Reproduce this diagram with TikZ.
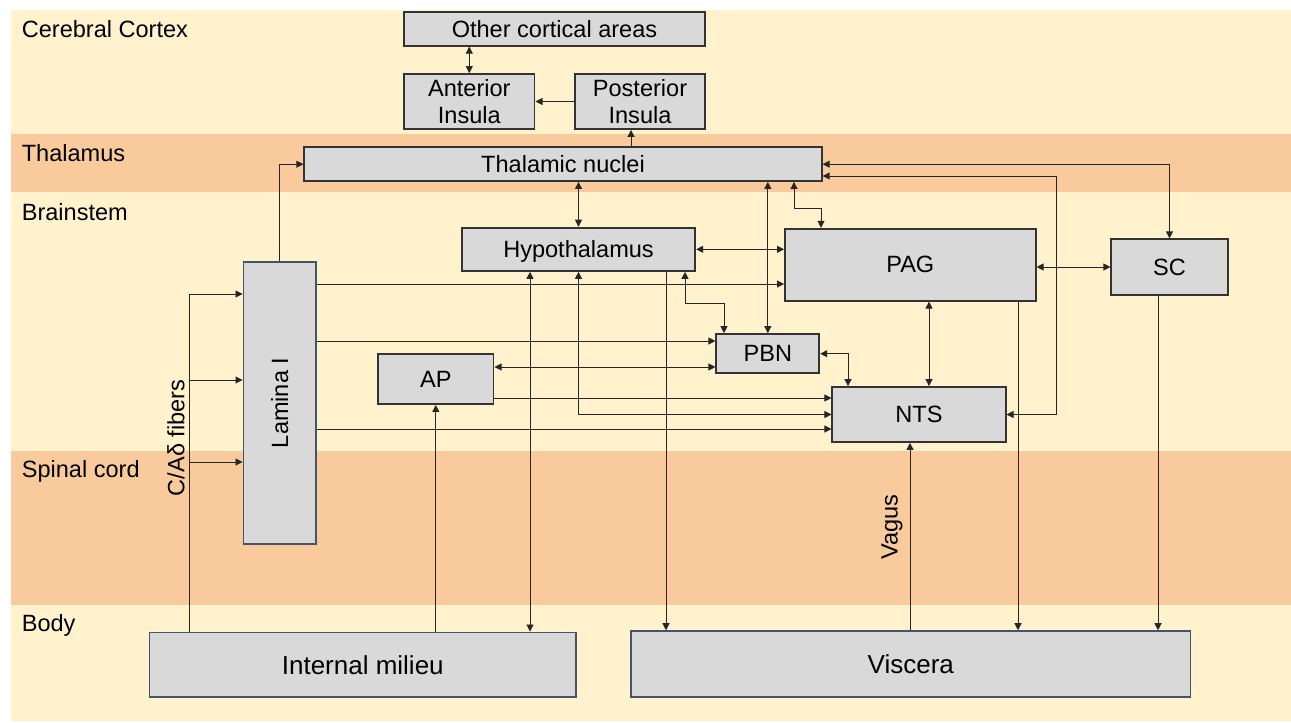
\documentclass[tikz,border=0pt]{standalone}
\usepackage{fontspec}
\setmainfont{Liberation Sans}
\usetikzlibrary{arrows.meta, calc}
\definecolor{cream}{HTML}{FFF2CC}
\definecolor{band}{HTML}{F9CB9C}
\definecolor{boxgray}{HTML}{D9D9D9}
\definecolor{boxedge}{HTML}{333333}
\definecolor{blueedge}{HTML}{44546A}
\newcommand{\fs}{\fontsize{13.4}{15.5}\selectfont}
\newcommand{\fb}{\fontsize{14.8}{17}\selectfont}
\tikzset{
  box/.style={draw=boxedge, fill=boxgray, line width=1pt, inner sep=0pt, align=center, text depth=0pt, font=\fs},
  bluebox/.style={box, draw=blueedge, line width=0.9pt},
  sz/.style 2 args={minimum width=#1*0.02cm, minimum height=#2*0.02cm},
  arr/.style={-{Triangle[length=4pt,width=4pt]}, line width=0.5pt, draw=black!85},
  dbl/.style={{Triangle[length=4pt,width=4pt]}-{Triangle[length=4pt,width=4pt]}, line width=0.5pt, draw=black!85},
  lay/.style={anchor=base west, inner sep=0pt, font=\fs},
}

\begin{document}
\begin{tikzpicture}[x=0.02cm, y=-0.02cm]
  % sfondo
  \useasboundingbox (0,0) rectangle (1291,723);
  \fill[cream] (11,10) rectangle (1291,721);
  \fill[band] (11,134) rectangle (1291,192);
  \fill[band] (11,451) rectangle (1291,605);

  % livelli
  \node[lay] (lcor) at (21.5,37.3) {Cerebral Cortex};
  \node[lay] (lthal) at (21.5,161.7) {Thalamus};
  \node[lay] (lbrain) at (21.5,220.7) {Brainstem};
  \node[lay] (lspin) at (21.5,477) {Spinal cord};
  \node[lay] (lbody) at (21.5,631.7) {Body};

  % box
  \node[box, sz={301}{33.4}] (oca) at (554.5,29) {Other cortical areas};
  \node[box, sz={130.6}{55}] (ant) at (469.3,101.5) {Anterior\\Insula};
  \node[box, sz={130}{55}] (post) at (640,101.5) {Posterior\\Insula};
  \node[box, sz={517.5}{33.7}] (thal) at (563,164.2) {Thalamic nuclei};
  \node[box, sz={233.6}{43.3}] (hyp) at (578.5,249.3) {Hypothalamus};
  \node[box, sz={250.7}{72}] (pag) at (910.3,264.7) {PAG};
  \node[box, sz={116.4}{55.4}] (sc) at (1169.5,267) {SC};
  \node[bluebox, sz={72.7}{282.3}] (lam) at (279.7,402.9) {\rotatebox{90}{Lamina I}};
  \node[box, sz={103}{39.3}] (pbn) at (767.8,353.7) {PBN};
  \node[box, sz={115.6}{49.7}] (ap) at (435.8,379.2) {AP};
  \node[box, sz={173.3}{55}] (nts) at (919,414.5) {NTS};
  \node[bluebox, sz={426.4}{64.7}, font=\fb] (im) at (362.8,664.7) {Internal milieu};
  \node[bluebox, sz={559.7}{65.7}, font=\fb] (visc) at (910.8,663.9) {Viscera};

  %etichette
  \node[rotate=90, font=\fs, inner sep=0pt] (fibl) at (176,438) {C/Aδ fibers};
  \node[rotate=90, font=\fs, inner sep=0pt] (vag) at (892,527) {Vagus};
  \coordinate (fib) at (189,0 |- im.north);

  % corteccia
  \draw[dbl] (oca.south -| ant.north) -- (ant.north);
  \draw[arr] (post.west) -- (ant.east);
  \draw[arr] (631,0 |- thal.north) -- (631,0 |- post.south);

  % talamo
  \draw[arr] (lam.north) |- (thal.west);
  \draw[dbl] (hyp.north |- thal.south) -- (hyp.north);
  \draw[dbl] (pbn.north |- thal.south) -- (pbn.north);
  \draw[dbl] (794,0 |- thal.south) |- (821,208) -- (821,0 |- pag.north);
  \draw[dbl] (thal.east) -| (sc.north);
  \draw[dbl] (thal.east |- 0,176) -| (1056,300) |- (nts.east);

  % tronco
  \draw[dbl] (hyp.east) -- (hyp.east -| pag.west);
  \draw[arr] (lam.east |- 0,284) -- (pag.west |- 0,284);
  \draw[arr] (lam.east |- 0,341) -- (pbn.west |- 0,341);
  \draw[arr] (lam.east |- 0,429) -- (nts.west |- 0,429);
  \draw[dbl] (685,0 |- hyp.south) |- (724,303) -- (724,0 |- pbn.north);
  \draw[dbl] (hyp.south) |- (nts.west);
  \draw[dbl] (ap.east |- 0,367) -- (pbn.west |- 0,367);
  \draw[arr] (ap.east |- 0,398) -- (nts.west |- 0,398);
  \draw[dbl] (pbn.east) -| (848,0 |- nts.north);
  \draw[dbl] (929,0 |- pag.south) -- (929,0 |- nts.north);
  \draw[dbl] (pag.east |- sc.west) -- (sc.west);

  % corpo
  \draw[dbl] (530,0 |- hyp.south) -- (530,0 |- im.north);
  \draw[arr] (666,0 |- hyp.south) -- (666,0 |- visc.north);
  \draw[arr] (ap.south |- im.north) -- (ap.south);
  \draw[arr] (1018,0 |- pag.south) -- (1018,0 |- visc.north);
  \draw[arr] (1158,0 |- sc.south) -- (1158,0 |- visc.north);
  \draw[arr] (910,0 |- visc.north) -- (910,0 |- nts.south);
  \draw[arr] (fib) |- (lam.west |- 0,294);
  \draw[arr] (fib |- 0,380) -- (lam.west |- 0,380);
  \draw[arr] (fib |- 0,462) -- (lam.west |- 0,462);
\end{tikzpicture}
\end{document}
